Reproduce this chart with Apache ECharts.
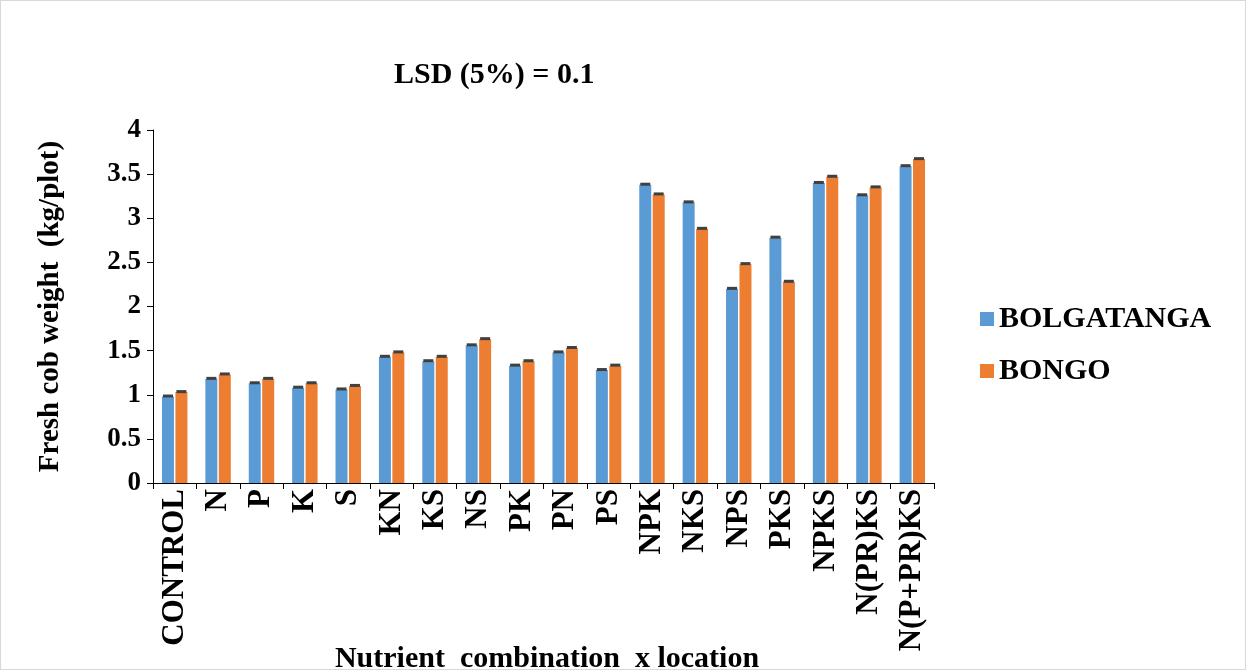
<!DOCTYPE html><html><head><meta charset="utf-8"><script src="https://cdn.jsdelivr.net/npm/echarts@6/dist/echarts.min.js"></script>
<style>html,body{margin:0;padding:0;background:#fff}#c{width:1246px;height:670px;box-sizing:border-box;border:1px solid #d9d9d9}</style></head><body><div id="c"></div><script>
const categories=["CONTROL","N","P","K","S","KN","KS","NS","PK","PN","PS","NPK","NKS","NPS","PKS","NPKS","N(PR)KS","N(P+PR)KS"];
const bolgatanga=[0.98,1.18,1.13,1.08,1.06,1.43,1.38,1.56,1.33,1.48,1.28,3.38,3.18,2.20,2.78,3.40,3.26,3.59];
const bongo=[1.03,1.23,1.18,1.13,1.10,1.48,1.43,1.63,1.38,1.53,1.33,3.27,2.88,2.48,2.28,3.47,3.35,3.67];
const xName='Nutrient  combination  x location';
const F='"Liberation Serif","Times New Roman",serif';
const chart=echarts.init(document.getElementById('c'));
function cap(off,data){return{type:'custom',silent:true,z:5,data:data.map((v,i)=>[i,v]),
 renderItem:(p,api)=>{const pt=api.coord([api.value(0),api.value(1)]);return{type:'rect',shape:{x:pt[0]+off-5,y:pt[1]-2,width:10,height:3},style:{fill:'#404040'}};}};}
chart.setOption({
 title:{text:'LSD (5%) = 0.1',left:388,top:54,textStyle:{fontFamily:F,fontWeight:'bold',fontSize:30,color:'#000'}},
 legend:{orient:'vertical',left:974,top:298,itemGap:22,itemWidth:14,itemHeight:14,icon:'rect',textStyle:{fontFamily:F,fontWeight:'bold',fontSize:30,color:'#000'}},
 graphic:[{type:'text',x:546,y:658,z:10,style:{text:xName,fontFamily:F,fontWeight:'bold',fontSize:30,fill:'#000',align:'center',verticalAlign:'middle'}}],
 grid:{left:152,right:311,top:129,bottom:186,containLabel:false,outerBoundsMode:'none'},
 xAxis:{type:'category',data:categories,axisTick:{show:true,alignWithLabel:false,length:6,lineStyle:{color:'#000'}},axisLine:{lineStyle:{color:'#000'}},
  axisLabel:{rotate:90,interval:0,fontFamily:F,fontWeight:'bold',fontSize:31,color:'#000',margin:6}},
 yAxis:{type:'value',min:0,max:4,interval:0.5,splitLine:{show:false},axisLine:{show:true,lineStyle:{color:'#000'}},axisTick:{show:true,length:6,lineStyle:{color:'#000'}},
  axisLabel:{fontFamily:F,fontWeight:'bold',fontSize:27,color:'#000',margin:12},
  name:'Fresh cob weight  (kg/plot)',nameLocation:'middle',nameGap:88,nameTextStyle:{fontFamily:F,fontWeight:'bold',fontSize:29,color:'#000'}},
 series:[
  {name:'BOLGATANGA',type:'bar',data:bolgatanga,barWidth:12,barGap:'12%',itemStyle:{color:'#5B9BD5'}},
  {name:'BONGO',type:'bar',data:bongo,barWidth:12,barGap:'12%',itemStyle:{color:'#ED7D31'}},
  cap(-6.7,bolgatanga),cap(6.7,bongo)
 ]
});
</script></body></html>
